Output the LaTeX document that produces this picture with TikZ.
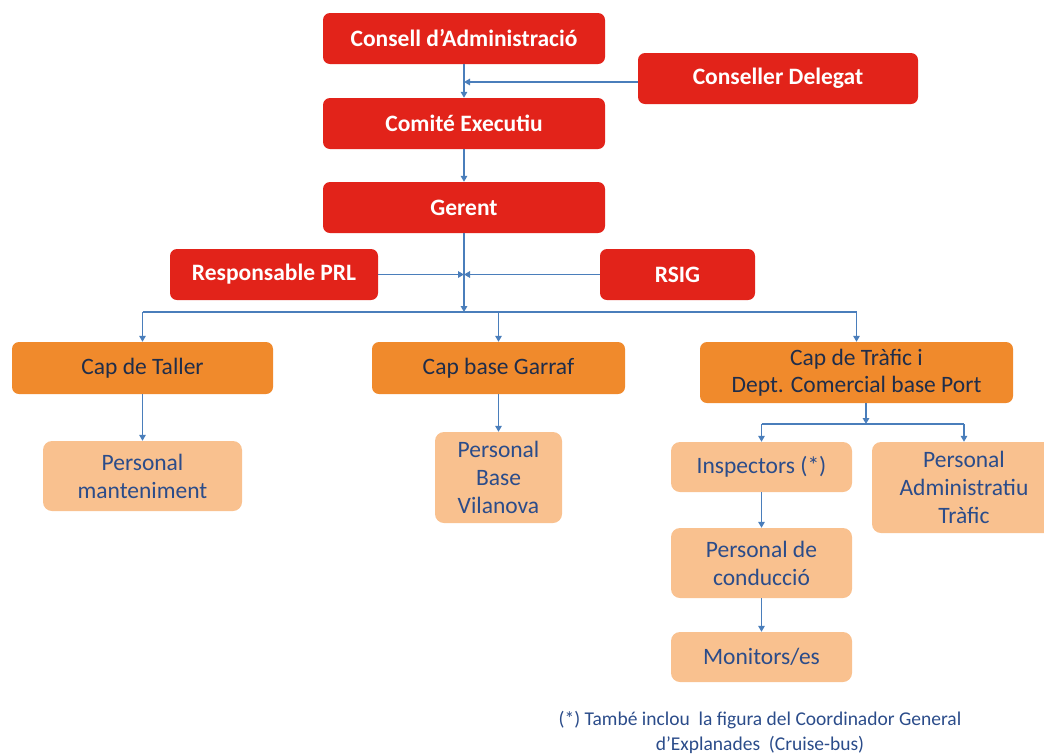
\documentclass[tikz,border=0pt]{standalone}
\usepackage{fontspec}
\setmainfont{Carlito}
\usetikzlibrary{arrows.meta}
\definecolor{cred}{HTML}{E2231A}
\definecolor{corange}{HTML}{F08A2C}
\definecolor{clight}{HTML}{F9C18F}
\definecolor{cline}{HTML}{4A7EBB}
\definecolor{cdark}{HTML}{1F2D4A}
\definecolor{cblue}{HTML}{2B4C8A}
\begin{document}
\begin{tikzpicture}[x=1pt,y=-1pt,
  redbox/.style={fill=cred, rounded corners=7pt, text=white, inner sep=0pt, align=center,
    font=\bfseries\fontsize{23.5}{27}\selectfont},
  orbox/.style={fill=corange, rounded corners=7pt, text=cdark, inner sep=0pt, align=center,
    font=\fontsize{23.5}{27}\selectfont},
  ltbox/.style={fill=clight, rounded corners=9pt, text=cblue, inner sep=0pt, align=center,
    font=\fontsize{23.5}{28}\selectfont},
  conn/.style={draw=cline, line width=1.5pt, -{Triangle[width=6.5pt,length=6pt]}},
  wire/.style={draw=cline, line width=1.5pt}]
\useasboundingbox (0,0) rectangle (1044,753);
% top level
\node[redbox, minimum width=282pt, minimum height=51pt] (consell) at (464,38.5) {Consell d’Administració};
\node[redbox, minimum width=280pt, minimum height=51pt] (delegat) at (778,78.5) {Conseller Delegat};
\node[redbox, minimum width=282pt, minimum height=51pt] (comite) at (464,123.5) {Comité Executiu};
\node[redbox, minimum width=282pt, minimum height=51pt] (gerent) at (464,207.5) {Gerent};
\node[redbox, minimum width=208pt, minimum height=51pt] (prl) at (274,274.5) {Responsable PRL};
\node[redbox, minimum width=155pt, minimum height=51pt] (rsig) at (677.5,274.5) {RSIG};
% second level
\node[orbox, minimum width=261pt, minimum height=52pt] (taller) at (142.5,368) {Cap de Taller};
\node[orbox, minimum width=253pt, minimum height=52pt] (garraf) at (498.5,368) {Cap base Garraf};
\node[orbox, minimum width=313pt, minimum height=61pt] (trafic) at (856.5,372.5) {Cap de Tràfic i\\Dept. Comercial base Port};
% third level
\node[ltbox, minimum width=199pt, minimum height=70pt] (mant) at (142.5,476) {Personal\\manteniment};
\node[ltbox, minimum width=127pt, minimum height=91pt] (vila) at (498.5,477.5) {Personal\\Base\\Vilanova};
\node[ltbox, minimum width=181pt, minimum height=50pt] (insp) at (761.5,467) {Inspectors (*)};
\node[ltbox, minimum width=184pt, minimum height=91pt] (admin) at (964,487.5) {Personal\\Administratiu\\Tràfic};
\node[ltbox, minimum width=181pt, minimum height=70pt] (cond) at (761.5,563) {Personal de\\conducció};
\node[ltbox, minimum width=181pt, minimum height=50pt] (moni) at (761.5,657) {Monitors/es};
% footnote
\node[text=cblue, align=center, font=\fontsize{19.5}{25}\selectfont] (note) at (760,732) {(*) També inclou\ \ la figura del Coordinador General\\d’Explanades\ \ (Cruise-bus)};
% connectors top
\draw[conn] (consell.south) -- (comite.north);
\draw[conn] ([yshift=-3.5pt]delegat.west) -- ([yshift=-3.5pt]delegat.west -| consell.south);
\draw[conn] (comite.south) -- (gerent.north);
\coordinate (bus) at (464,312);
\draw[conn] (gerent.south) -- (bus);
\draw[conn] (prl.east) -- (prl.east -| gerent.south);
\draw[conn] (rsig.west) -- (rsig.west -| gerent.south);
\draw[wire] (taller.north |- bus) -- (trafic.north |- bus);
\draw[conn] (taller.north |- bus) -- (taller.north);
\draw[conn] (garraf.north |- bus) -- (garraf.north);
\draw[conn] (trafic.north |- bus) -- (trafic.north);
% lower connectors
\draw[conn] (taller.south) -- (mant.north);
\draw[conn] (garraf.south) -- (vila.north);
\coordinate (tbus) at (866,424);
\draw[conn] (trafic.south -| tbus) -- (tbus);
\draw[wire] (insp.north |- tbus) -- (admin.north |- tbus);
\draw[conn] (insp.north |- tbus) -- (insp.north);
\draw[conn] (admin.north |- tbus) -- (admin.north);
\draw[conn] (insp.south) -- (cond.north);
\draw[conn] (cond.south) -- (moni.north);
\end{tikzpicture}
\end{document}
